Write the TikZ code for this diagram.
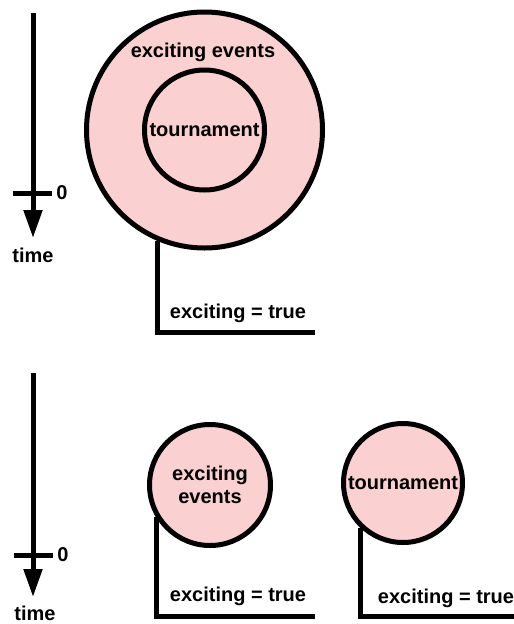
\documentclass[tikz,border=0pt]{standalone}
\usepackage{fontspec}
\setmainfont{Liberation Sans}
\usetikzlibrary{arrows.meta}
\definecolor{pinkfill}{RGB}{250,208,208}
\tikzset{
  thickline/.style={line width=5pt},
  bubble/.style={circle, draw, thickline, fill=pinkfill, inner sep=0pt, align=center, font=\fontsize{20}{23}\selectfont\bfseries},
  lbl/.style={inner sep=0pt, font=\fontsize{20}{23}\selectfont\bfseries},
  timearrow/.style={thickline, -{Triangle[length=28pt,width=18pt]}},
  stem/.style={thickline, line join=miter}
}
\begin{document}
\begin{tikzpicture}[x=1pt,y=-1pt]
\useasboundingbox (0,0) rectangle (514,624);
% ---------- top panel ----------
\coordinate (t1top) at (33,13);
\coordinate (t1tip) at (33,238);
\coordinate (t1l) at (13,193);
\coordinate (t1r) at (52,193);
\draw[timearrow] (t1top) -- (t1tip);
\draw[thickline] (t1l) -- (t1r);
\node[lbl] (zero1) at (62,193) {0};
\node[lbl] (time1) at (33,255) {time};

\node[bubble, minimum size=236pt] (outer) at (204.5,130) {};
\node[lbl] (evlabel) at (203,52) {exciting events};
\node[bubble, minimum size=120pt] (inner) at (204.5,130) {tournament};
\coordinate (e1) at (315,332);
\draw[stem] (outer.247) |- (e1);
\node[lbl] (ex1) at (238,313) {exciting = true};

% ---------- bottom panel ----------
\coordinate (t2top) at (33,373);
\coordinate (t2tip) at (33,597);
\coordinate (t2l) at (14,555);
\coordinate (t2r) at (53,555);
\draw[timearrow] (t2top) -- (t2tip);
\draw[thickline] (t2l) -- (t2r);
\node[lbl] (zero2) at (63,555) {0};
\node[lbl] (time2) at (35,613) {time};

\node[bubble, minimum size=121pt] (c1) at (210,485) {exciting\\events};
\coordinate (e2) at (315,616);
\draw[stem] (c1.211.6) |- (e2);
\node[lbl] (ex2) at (238,596) {exciting = true};

\node[bubble, minimum size=119pt] (c2) at (403,483) {tournament};
\coordinate (e3) at (514,616);
\draw[stem] (c2.227) |- (e3);
\node[lbl] (ex3) at (446,598) {exciting = true};
\end{tikzpicture}
\end{document}
